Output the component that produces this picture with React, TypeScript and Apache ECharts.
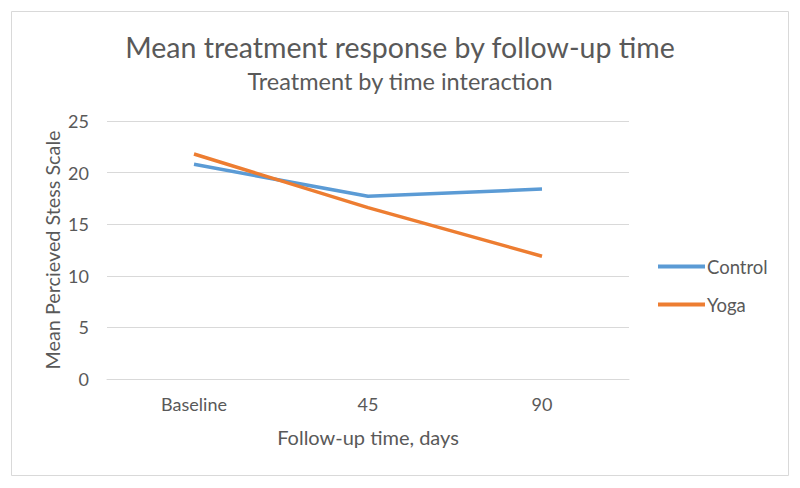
import React, { useEffect, useRef } from "react";
import * as echarts from "echarts";

const categories = ["Baseline", "45", "90"];
const controlValues = [20.8, 17.7, 18.4];
const yogaValues = [21.8, 16.6, 11.9];
const seriesNames = ["Control", "Yoga"];

const FONT = "Lato, 'Open Sans', sans-serif";
const TEXT = "#595959";

export default function App() {
  const ref = useRef<HTMLDivElement>(null);
  useEffect(() => {
    if (!ref.current) return;
    const chart = echarts.init(ref.current, undefined, { renderer: "svg" });
    chart.setOption({
      animation: false,
      backgroundColor: "#ffffff",
      textStyle: { fontFamily: FONT },
      graphic: [
        {
          type: "rect",
          shape: { x: 11.5, y: 11.5, width: 777, height: 464 },
          style: { fill: "none", stroke: "#d9d9d9", lineWidth: 1 },
          silent: true,
        },
      ],
      title: {
        text: "Mean treatment response by follow-up time",
        subtext: "Treatment by time interaction",
        left: "center",
        top: 27,
        itemGap: 8,
        textStyle: { fontFamily: FONT, fontSize: 28.5, fontWeight: "normal", color: TEXT },
        subtextStyle: { fontFamily: FONT, fontSize: 23.5, color: TEXT },
      },
      legend: {
        orient: "vertical",
        left: 653,
        top: 252,
        itemGap: 19,
        itemWidth: 47,
        itemHeight: 4,
        icon: "rect",
        data: seriesNames,
        textStyle: { fontFamily: FONT, fontSize: 18.5, color: TEXT, padding: [0, 0, 0, -3] },
      },
      grid: { left: 107, right: 171, top: 121, bottom: 109, containLabel: false },
      xAxis: {
        type: "category",
        data: categories,
        boundaryGap: true,
        axisLine: { show: true, lineStyle: { color: "#d9d9d9", width: 1 } },
        axisTick: { show: false },
        axisLabel: { color: TEXT, fontSize: 18, margin: 16, fontFamily: FONT },
        name: "Follow-up time, days",
        nameLocation: "middle",
        nameGap: 48,
        nameMoveOverlap: false,
        nameTextStyle: { color: TEXT, fontSize: 20, fontFamily: FONT },
      },
      yAxis: {
        type: "value",
        min: 0,
        max: 25,
        interval: 5,
        axisLine: { show: false },
        axisTick: { show: false },
        splitLine: { lineStyle: { color: "#d9d9d9", width: 1 } },
        axisLabel: { color: TEXT, fontSize: 18, margin: 18, fontFamily: FONT },
        name: "Mean Percieved Stess Scale",
        nameLocation: "middle",
        nameGap: 45,
        nameMoveOverlap: false,
        nameTextStyle: { color: TEXT, fontSize: 19.8, fontFamily: FONT },
      },
      series: [
        {
          name: seriesNames[0],
          type: "line",
          data: controlValues,
          symbol: "none",
          lineStyle: { color: "#5B9BD5", width: 3.5 },
          itemStyle: { color: "#5B9BD5" },
        },
        {
          name: seriesNames[1],
          type: "line",
          data: yogaValues,
          symbol: "none",
          lineStyle: { color: "#ED7D31", width: 3.5 },
          itemStyle: { color: "#ED7D31" },
        },
      ],
    });
    return () => chart.dispose();
  }, []);
  return (
    <div
      ref={ref}
      style={{ position: "fixed", left: 0, top: 0, width: 800, height: 488, background: "#fff" }}
    />
  );
}
